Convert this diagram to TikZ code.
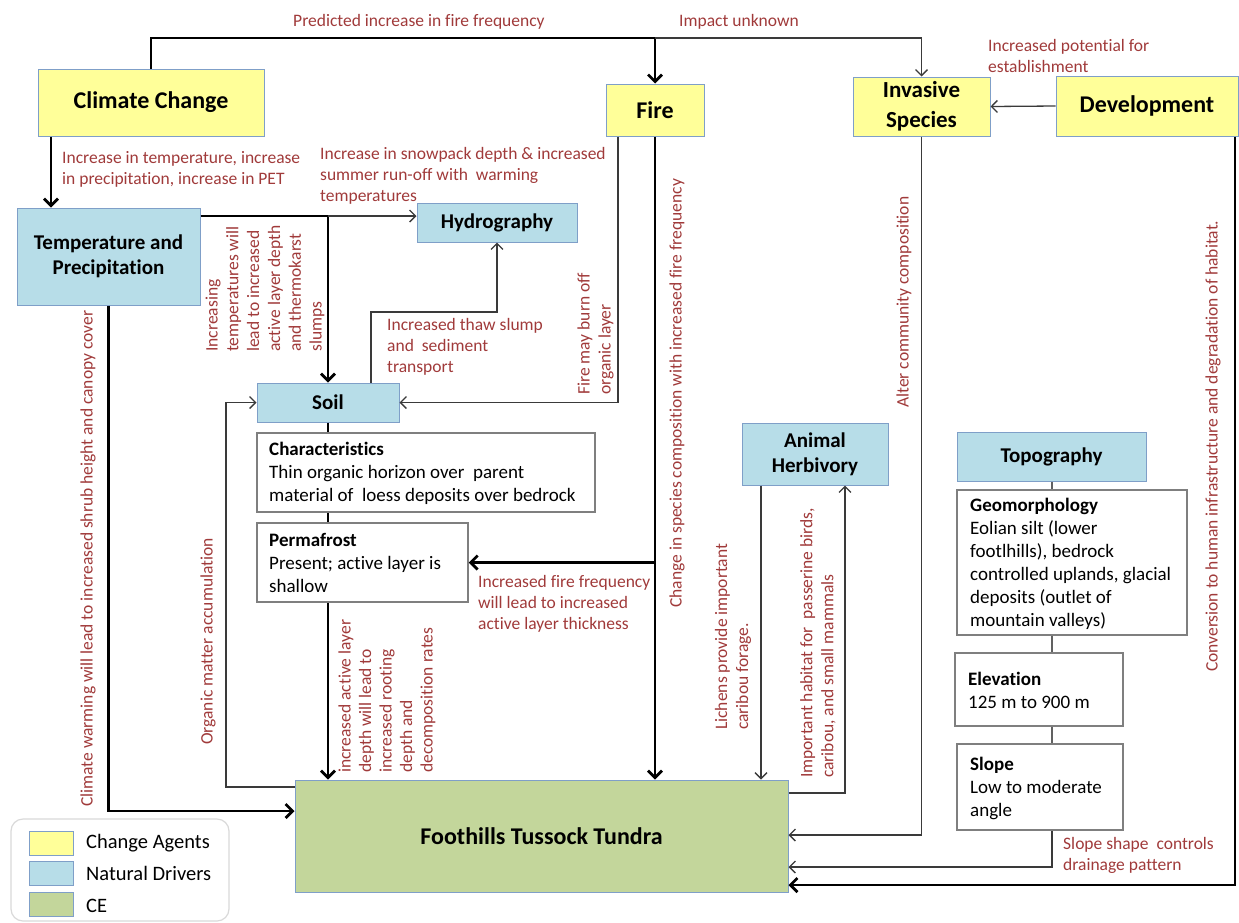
\documentclass[tikz,border=0pt]{standalone}
\usepackage{fontspec}
\setmainfont{Carlito}[Ligatures=NoCommon]
\usetikzlibrary{arrows.meta}
\definecolor{cyel}{HTML}{FFFF99}
\definecolor{cblue}{HTML}{B7DDE8}
\definecolor{cgreen}{HTML}{C3D69B}
\definecolor{cborder}{HTML}{7F9FC8}
\definecolor{tborder}{HTML}{7F7F7F}
\definecolor{cred}{HTML}{A03A3A}
\definecolor{cline}{HTML}{3A3A3A}
\newcommand{\fs}[2]{\fontsize{#1}{#2}\selectfont}
\tikzset{
  cbox/.style={draw=cborder, line width=1pt, inner sep=0pt, align=center, font=\bfseries\fs{21}{25}},
  agent/.style={cbox, fill=cyel},
  driver/.style={cbox, fill=cblue},
  cebox/.style={cbox, fill=cgreen},
  tbox/.style={draw=tborder, line width=1.5pt, fill=white, inner sep=0pt},
  btxt/.style={anchor=west, inner sep=0pt, align=left, font=\fs{19}{23}},
  lbl/.style={text=cred, font=\fs{17.5}{21}, inner sep=0pt, align=left},
  rlbl/.style={lbl, rotate=90, anchor=west},
  thk/.style={line width=2.8pt, black, -{Straight Barb[length=7pt,width=14pt]}},
  thkline/.style={line width=2.8pt, black},
  thn/.style={line width=1.3pt, cline, -{Straight Barb[length=6pt,width=12pt]}},
  thnline/.style={line width=1.6pt, cline!80},
}
\begin{document}
\begin{tikzpicture}[x=1pt,y=-1pt]
\useasboundingbox (0,0) rectangle (1239,922);
% helper coordinates
\coordinate (topy) at (0,38);
\coordinate (y216) at (0,216);
\coordinate (y312) at (0,312);
\coordinate (y787) at (0,787);
\coordinate (y793) at (0,793);
\coordinate (y811) at (0,811);
\coordinate (y835) at (0,835);
\coordinate (y867) at (0,867);
\coordinate (y885) at (0,885);
\coordinate (x51) at (51,0);
\coordinate (x226) at (226,0);
\coordinate (x371) at (371,0);
\coordinate (x618) at (618,0);
\coordinate (x761) at (761,0);
\coordinate (x845) at (845,0);
\coordinate (x1052) at (1052,0);
\coordinate (x1235) at (1235,0);

% boxes
\node[agent, font=\bfseries\fs{24}{28}, minimum width=226pt, minimum height=67pt] (cc) at (151,102.5) {Climate Change};
\node[agent, font=\bfseries\fs{24}{28}, minimum width=98pt, minimum height=52pt] (fire) at (655,110) {Fire};
\node[agent, font=\bfseries\fs{23}{30}, minimum width=137pt, minimum height=59pt] (inv) at (921.5,106.5) {Invasive\\Species};
\node[agent, font=\bfseries\fs{24}{28}, minimum width=182pt, minimum height=60pt] (dev) at (1147,106) {Development};
\node[driver, minimum width=183pt, minimum height=97pt] (temp) at (108.5,256.5) {Temperature and\\Precipitation};
\node[driver, minimum width=160pt, minimum height=39pt] (hydro) at (497,222.5) {Hydrography};
\node[driver, minimum width=142pt, minimum height=39pt] (soil) at (328,402.5) {Soil};
\node[driver, minimum width=146pt, minimum height=62pt] (herb) at (815,454) {Animal\\Herbivory};
\node[driver, minimum width=189pt, minimum height=49pt] (topo) at (1051.5,456.5) {Topography};
\node[cebox, font=\bfseries\fs{24}{28}, minimum width=493pt, minimum height=112pt] (tundra) at (541.5,836) {Foothills Tussock Tundra};

\node[tbox, minimum width=338pt, minimum height=79pt] (char) at (426,472.5) {};
\node[btxt] (chart) at (269,473) {\textbf{Characteristics}\\Thin organic horizon over~ parent\\material of~ loess deposits over bedrock};
\node[tbox, minimum width=211pt, minimum height=79pt] (perm) at (362.5,562.5) {};
\node[btxt] (permt) at (269,563) {\textbf{Permafrost}\\Present; active layer is\\shallow};
\node[tbox, minimum width=230pt, minimum height=145pt] (geo) at (1072,562.5) {};
\node[btxt] (geot) at (970,564) {\textbf{Geomorphology}\\Eolian silt (lower\\footlhills), bedrock\\controlled uplands, glacial\\deposits (outlet of\\mountain valleys)};
\node[tbox, minimum width=168pt, minimum height=73pt] (elev) at (1039,689.5) {};
\node[btxt] (elevt) at (968,690.5) {\textbf{Elevation}\\125 m to 900 m};
\node[tbox, minimum width=166pt, minimum height=86pt] (slope) at (1040,787) {};
\node[btxt] (slopet) at (970,788.5) {\textbf{Slope}\\Low to moderate\\angle};

% connectors
\draw[thk] (cc.north) -- (cc.north |- topy) -- (fire.north |- topy) -- (fire.north);
\draw[thn] (fire.north |- topy) -- (inv.north |- topy) -- (inv.north);
\draw[thn] (dev.west) -- (inv.east);
\draw[thk] (cc.south -| x51) -- (temp.north -| x51);
\draw[thk] (temp.east |- y216) -- (soil.north |- y216) -- (soil.north);
\draw[thn] (soil.north |- y216) -- (hydro.west |- y216);
\draw[thn] (x371 |- soil.north) -- (x371 |- y312) -- (hydro.south |- y312) -- (hydro.south);
\draw[thn] (x618 |- fire.south) -- (x618 |- soil.east) -- (soil.east);
\draw[thk] (fire.south) -- (fire.south |- tundra.north);
\draw[thk] (fire.south |- perm.east) -- (perm.east);
\draw[thkline] (soil.south) -- (soil.south |- char.north);
\draw[thkline] (soil.south |- char.south) -- (soil.south |- perm.north);
\draw[thk] (soil.south |- perm.south) -- (soil.south |- tundra.north);
\draw[thn] (tundra.west |- y787) -- (x226 |- y787) -- (x226 |- soil.west) -- (soil.west);
\draw[thk] (temp.south) -- (temp.south |- y811) -- (tundra.west |- y811);
\draw[thn] (herb.south -| x761) -- (x761 |- tundra.north);
\draw[thn] (tundra.east |- y793) -- (x845 |- y793) -- (x845 |- herb.south);
\draw[thn] (inv.south) -- (inv.south |- y835) -- (tundra.east |- y835);
\draw[thnline] (topo.south -| x1052) -- (geo.north -| x1052);
\draw[thnline] (geo.south -| x1052) -- (elev.north -| x1052);
\draw[thnline] (elev.south -| x1052) -- (slope.north -| x1052);
\draw[thn] (slope.south -| x1052) -- (x1052 |- y867) -- (tundra.east |- y867);
\draw[thk] (dev.south -| x1235) -- (x1235 |- y885) -- (tundra.east |- y885);

% horizontal labels
\node[lbl, anchor=west] (l1) at (293,22) {Predicted increase in fire frequency};
\node[lbl, anchor=west] (l2) at (679,22) {Impact unknown};
\node[lbl, anchor=west] (l3) at (988,55.5) {Increased potential for\\establishment};
\node[lbl, anchor=west] (l4) at (62,169.5) {Increase in temperature, increase\\in precipitation, increase in PET};
\node[lbl, anchor=west] (l5) at (320,176) {Increase in snowpack depth \& increased\\summer run-off with~ warming\\temperatures};
\node[lbl, anchor=west] (l6) at (387,347) {Increased thaw slump\\and~ sediment\\transport};
\node[lbl, anchor=west] (l7) at (478,604) {Increased fire frequency\\will lead to increased\\active layer thickness};
\node[lbl, anchor=west] (l8) at (1063,855.5) {Slope shape~ controls\\drainage pattern};

% rotated labels
\node[rlbl, font=\fs{17.5}{20.8}] (r1) at (265,352) {Increasing\\temperatures will\\lead to increased\\active layer depth\\and thermokarst\\slumps};
\node[rlbl] (r2) at (595.5,395) {Fire may burn off\\organic layer};
\node[rlbl] (r3) at (677,608) {Change in species composition with increased fire frequency};
\node[rlbl] (r4) at (904,408) {Alter community composition};
\node[rlbl] (r5) at (1213,672) {Conversion to human infrastructure and degradation of habitat.};
\node[rlbl] (r6) at (88,807) {Climate warming will lead to increased shrub height and canopy cover};
\node[rlbl] (r7) at (208,745) {Organic matter accumulation};
\node[rlbl, font=\fs{17.5}{20.5}] (r8) at (387,773) {increased active layer\\depth will lead to\\increased rooting\\depth and\\decomposition rates};
\node[rlbl] (r9) at (733,730) {Lichens provide important\\caribou forage.};
\node[rlbl] (r10) at (818,778) {Important habitat for~ passerine birds,\\caribou, and small mammals};

% legend
\draw[draw=black!15, line width=1.2pt, rounded corners=12pt, fill=white] (11,819) rectangle (229,921);
\node[draw=cborder, line width=1pt, fill=cyel, minimum width=44pt, minimum height=24pt, inner sep=0pt] (sw1) at (51,843) {};
\node[draw=cborder, line width=1pt, fill=cblue, minimum width=44pt, minimum height=24pt, inner sep=0pt] (sw2) at (51,873) {};
\node[draw=cborder, line width=1pt, fill=cgreen, minimum width=44pt, minimum height=24pt, inner sep=0pt] (sw3) at (51,904) {};
\node[anchor=west, inner sep=0pt, font=\fs{20.5}{24}] (lg1) at (86,843) {Change Agents};
\node[anchor=west, inner sep=0pt, font=\fs{20.5}{24}] (lg2) at (86,873) {Natural Drivers};
\node[anchor=west, inner sep=0pt, font=\fs{20.5}{24}] (lg3) at (86,906) {CE};
\end{tikzpicture}
\end{document}
